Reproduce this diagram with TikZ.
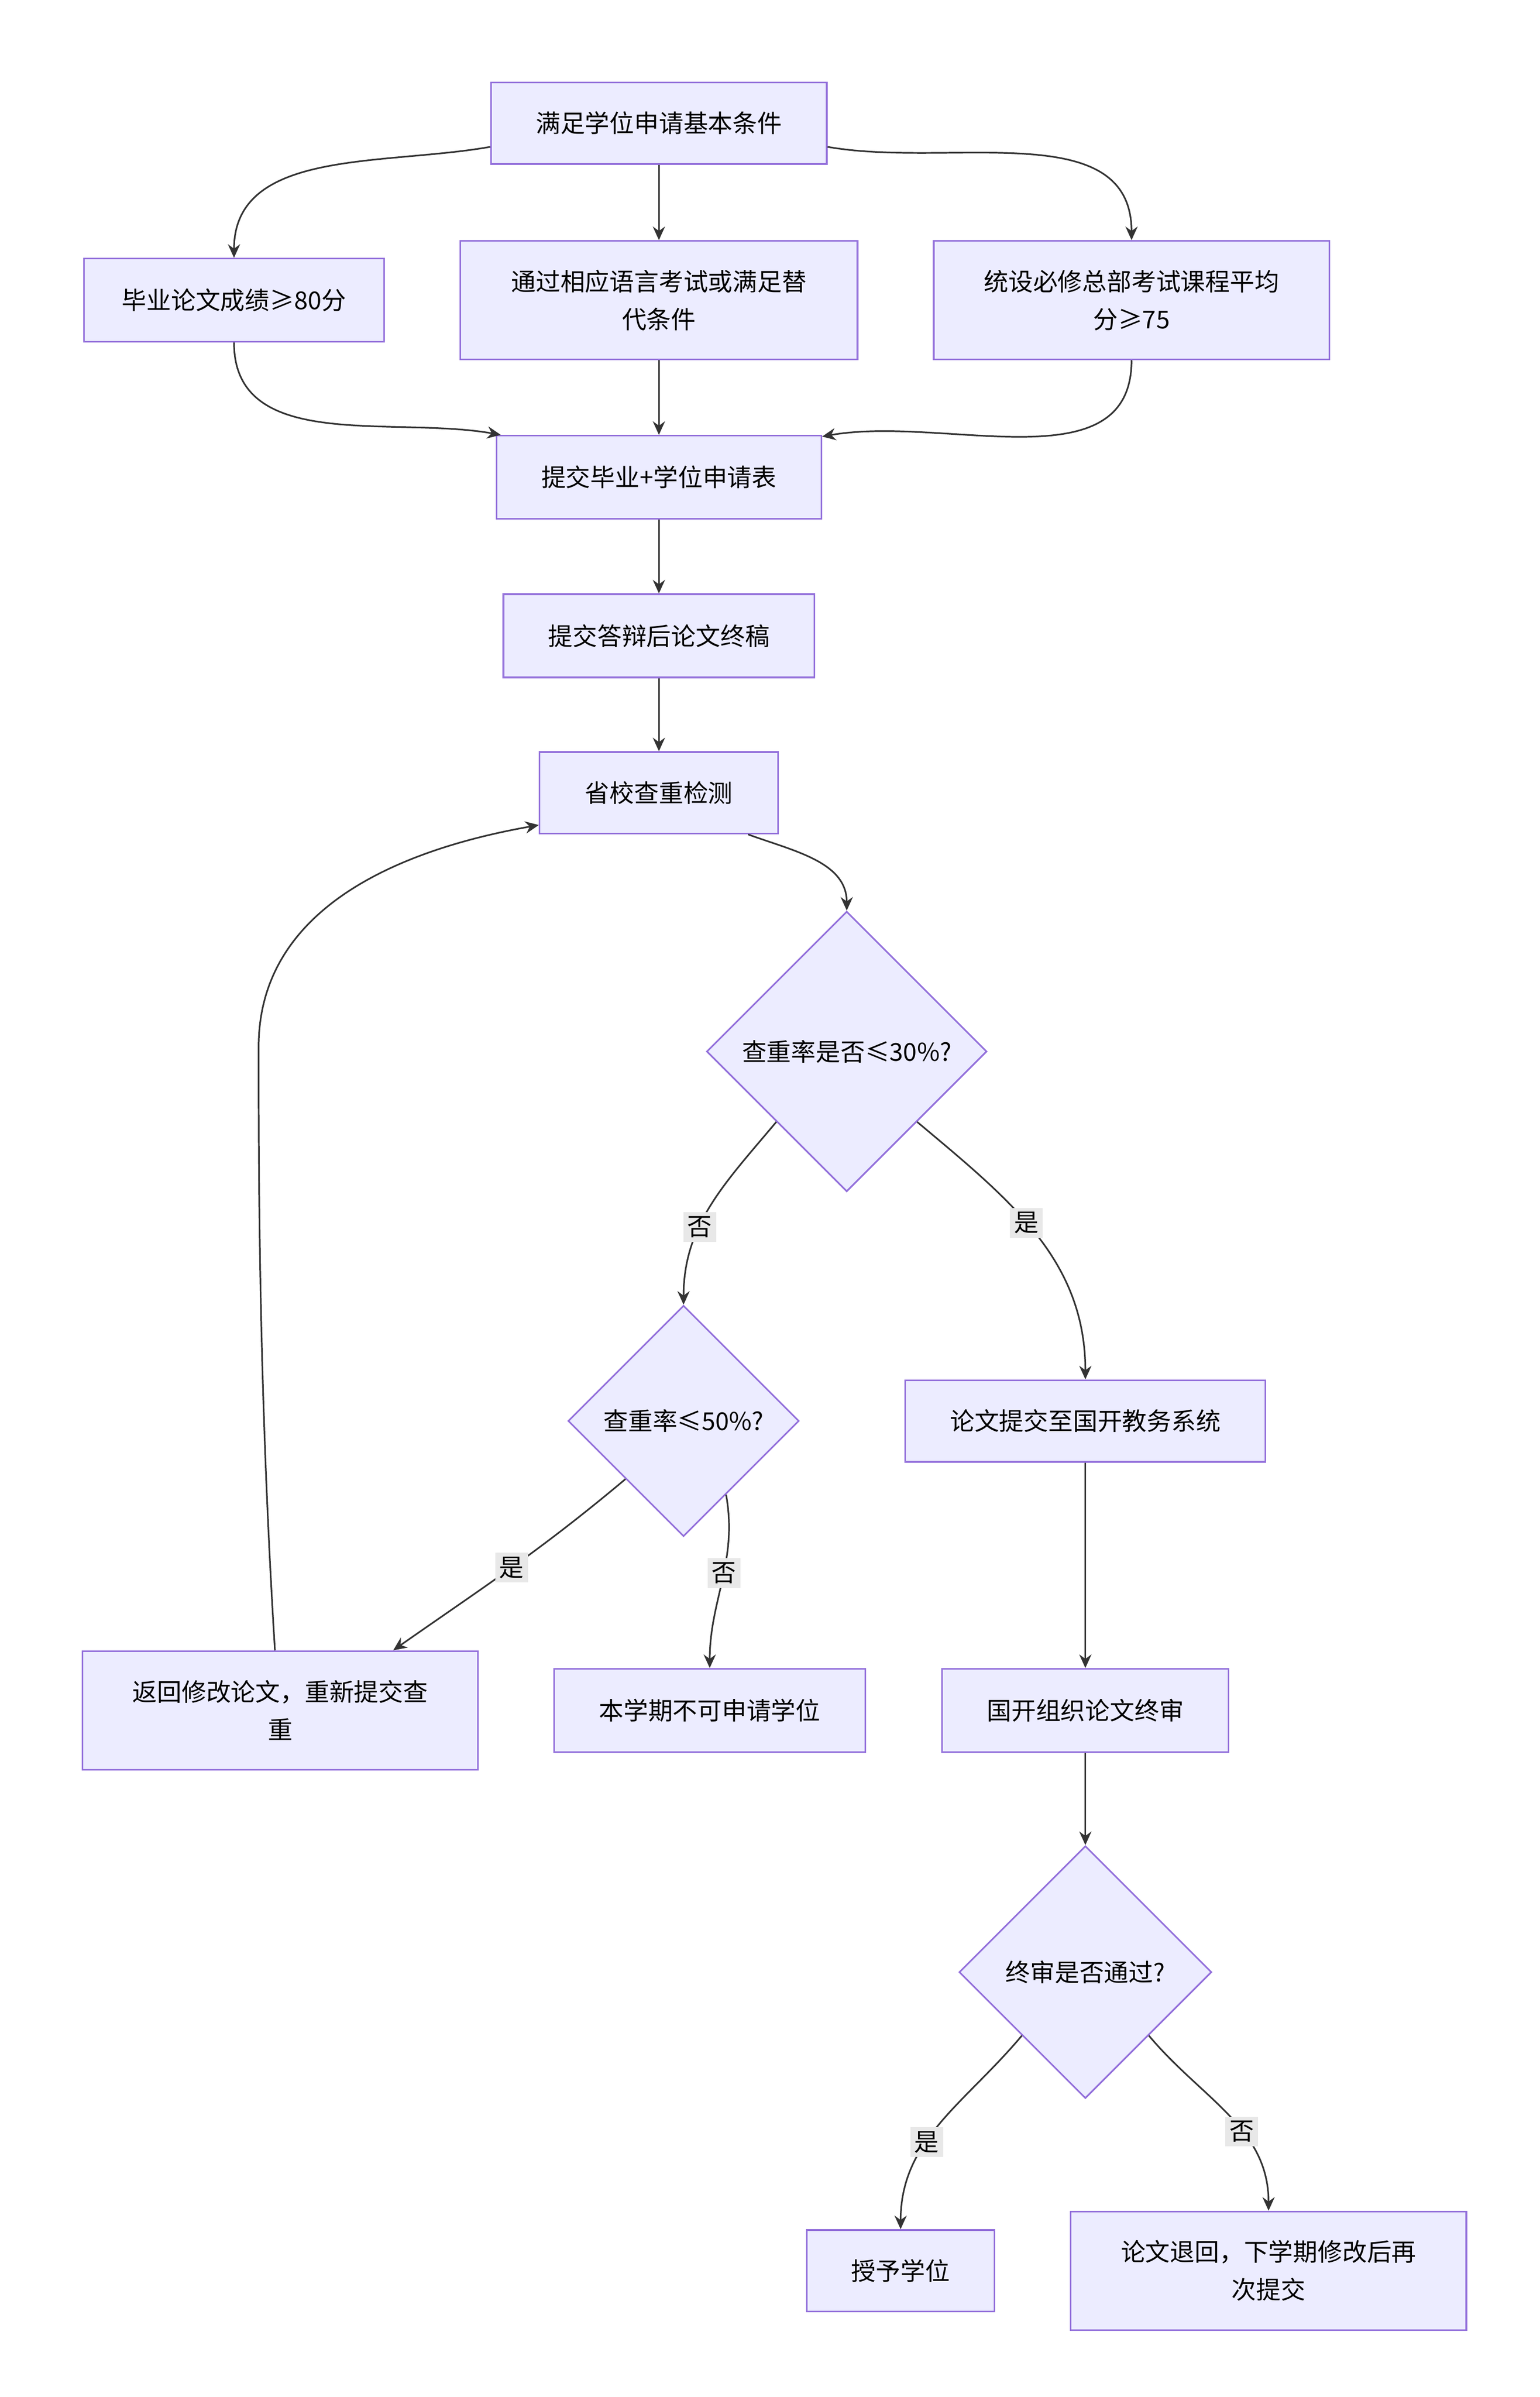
\documentclass[tikz,border=0pt]{standalone}
\usepackage{fontspec}
\setmainfont{Noto Sans CJK SC}
\usetikzlibrary{shapes.geometric,arrows.meta}
\definecolor{boxfill}{HTML}{ECECFF}
\definecolor{boxline}{HTML}{9370DB}
\definecolor{edgecol}{HTML}{333333}
\definecolor{lblbg}{HTML}{E8E8E8}
\tikzset{
  box/.style={draw=boxline,fill=boxfill,line width=0.6pt,align=center,inner sep=0pt},
  dia/.style={diamond,draw=boxline,fill=boxfill,line width=0.6pt,align=center,inner sep=0pt,aspect=1},
  edge/.style={draw=edgecol,line width=0.6pt,-{Stealth[length=5pt,width=4.5pt]}},
  lbl/.style={fill=lblbg,inner sep=1.5pt,font=\fontsize{9.1}{11}\selectfont}
}
\begin{document}
\begin{tikzpicture}[x=0.02cm,y=-0.02cm,font=\fontsize{9.1}{14}\selectfont]
\useasboundingbox (0,0) rectangle (1000,1557);

% boxes
\node[box,minimum width=218*0.02cm,minimum height=53*0.02cm] (req) at (428,80) {满足学位申请基本条件};
\node[box,minimum width=195*0.02cm,minimum height=54*0.02cm] (thesis) at (152,195) {毕业论文成绩≥80分};
\node[box,minimum width=258*0.02cm,minimum height=77*0.02cm] (lang) at (428,195) {通过相应语言考试或满足替\\代条件};
\node[box,minimum width=257*0.02cm,minimum height=77*0.02cm] (avg) at (735,195) {统设必修总部考试课程平均\\分≥75};
\node[box,minimum width=211*0.02cm,minimum height=54*0.02cm] (form) at (428,310) {提交毕业+学位申请表};
\node[box,minimum width=202*0.02cm,minimum height=54*0.02cm] (final) at (428,413) {提交答辩后论文终稿};
\node[box,minimum width=155*0.02cm,minimum height=53*0.02cm] (check) at (428,515) {省校查重检测};
\node[dia,minimum width=182*0.02cm,minimum height=182*0.02cm] (rate30) at (550,683) {查重率是否≤30\%?};
\node[dia,minimum width=150*0.02cm,minimum height=150*0.02cm] (rate50) at (444,923) {查重率≤50\%?};
\node[box,minimum width=234*0.02cm,minimum height=53*0.02cm] (sys) at (705,923) {论文提交至国开教务系统};
\node[box,minimum width=257*0.02cm,minimum height=77*0.02cm] (redo) at (182,1111) {返回修改论文，重新提交查\\重};
\node[box,minimum width=202*0.02cm,minimum height=54*0.02cm] (stop) at (461,1111) {本学期不可申请学位};
\node[box,minimum width=186*0.02cm,minimum height=54*0.02cm] (review) at (705,1111) {国开组织论文终审};
\node[dia,minimum width=164*0.02cm,minimum height=164*0.02cm] (pass) at (705,1281) {终审是否通过?};
\node[box,minimum width=122*0.02cm,minimum height=53*0.02cm] (grant) at (585,1475) {授予学位};
\node[box,minimum width=257*0.02cm,minimum height=77*0.02cm] (back) at (824,1475) {论文退回，下学期修改后再\\次提交};

% connectors
\draw[edge] (req.188) to[out=190,in=90] (thesis.north);
\draw[edge] (req) -- (lang);
\draw[edge] (req.352) to[out=-10,in=90] (avg.north);
\draw[edge] (thesis.south) to[out=-90,in=170] (form.165);
\draw[edge] (lang) -- (form);
\draw[edge] (avg.south) to[out=-90,in=10] (form.14);
\draw[edge] (form) -- (final);
\draw[edge] (final) -- (check);
\draw[edge] (check.-25) to[out=-20,in=90] (rate30.north);
\draw[edge] (rate30.-135) to[out=-130,in=90] node[lbl,pos=0.62]{否} (rate50.north);
\draw[edge] (rate30.-45) to[out=-40,in=90] node[lbl,pos=0.45]{是} (sys.north);
\draw[edge] (rate50.-135) to[out=-140,in=35] node[lbl,pos=0.5]{是} (redo.28);
\draw[edge] (rate50.-60) to[out=-80,in=90] node[lbl,pos=0.45]{否} (stop.north);
\draw[edge] (redo.95) .. controls (168,900) and (168,760) .. (168,680) to[out=90,in=190] (check.195);
\draw[edge] (sys) -- (review);
\draw[edge] (review) -- (pass);
\draw[edge] (pass.-135) to[out=-130,in=90] node[lbl,pos=0.6]{是} (grant.north);
\draw[edge] (pass.-45) to[out=-50,in=90] node[lbl,pos=0.6]{否} (back.north);
\end{tikzpicture}
\end{document}
